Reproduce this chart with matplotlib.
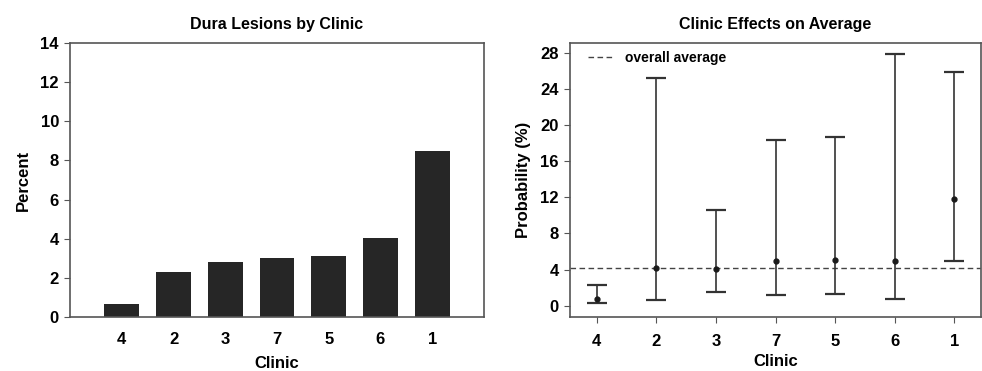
import matplotlib
matplotlib.use("Agg")
import matplotlib.pyplot as plt
from matplotlib import font_manager

names = {f.name for f in font_manager.fontManager.ttflist}
fam = ["Liberation Sans", "DejaVu Sans"]
fam = [f for f in fam if f in names] + ["DejaVu Sans"]
plt.rcParams['font.family'] = fam
plt.rcParams['font.weight'] = 'bold'

clinics = ["4", "2", "3", "7", "5", "6", "1"]
percent = [0.65, 2.3, 2.83, 3.0, 3.13, 4.02, 8.5]

prob_est = [0.74, 4.16, 4.1, 4.97, 5.08, 4.9, 11.8]
prob_low = [0.3, 0.59, 1.47, 1.18, 1.33, 0.74, 4.97]
prob_high = [2.29, 25.2, 10.6, 18.34, 18.7, 27.9, 25.9]
overall_avg = 4.13

left_ticks = [0, 2, 4, 6, 8, 10, 12, 14]
right_ticks = [0, 4, 8, 12, 16, 20, 24, 28]

W, H = 982, 371
fig = plt.figure(figsize=(W / 100, H / 100), dpi=100)
ax1 = fig.add_axes([70 / W, 1 - 317 / H, (484 - 70) / W, (317 - 43) / H])
ax2 = fig.add_axes([570 / W, 1 - 317 / H, (981 - 570) / W, (317 - 43) / H])

edge = "#555555"
x = list(range(1, len(clinics) + 1))

ax1.bar(x, percent, width=0.67, color="#262626", zorder=2)
ax1.set_xlim(0, 8)
ax1.set_ylim(0, 14)
ax1.set_yticks(left_ticks)
ax1.set_xticks(x)
ax1.set_xticklabels(clinics)
ax1.tick_params(axis='x', length=0, pad=11, labelsize=12)
ax1.tick_params(axis='y', length=4, color=edge, labelsize=12, pad=4)
ax1.set_title("Dura Lesions by Clinic", fontsize=11.5, fontweight='bold', pad=10)
ax1.set_xlabel("Clinic", fontsize=12, fontweight='bold', labelpad=6)
ax1.set_ylabel("Percent", fontsize=12, fontweight='bold', labelpad=7)

lower = [e - l for e, l in zip(prob_est, prob_low)]
upper = [h - e for e, h in zip(prob_est, prob_high)]
ax2.errorbar(x, prob_est, yerr=[lower, upper], fmt='o', color="#1a1a1a",
             ecolor="#333333", elinewidth=1.2, capsize=7, capthick=1.6,
             markersize=3.5, zorder=3)
ax2.axhline(overall_avg, color="#444444", linestyle=(0, (4, 2.5)), linewidth=1.0,
            label="overall average", zorder=2)
ax2.set_xlim(0.55, 7.45)
ax2.set_ylim(-1.25, 29.1)
ax2.set_yticks(right_ticks)
ax2.set_xticks(x)
ax2.set_xticklabels(clinics)
ax2.tick_params(axis='x', length=4, color=edge, labelsize=12, pad=8)
ax2.tick_params(axis='y', length=4, color=edge, labelsize=12, pad=4)
ax2.set_title("Clinic Effects on Average", fontsize=11.5, fontweight='bold', pad=10)
ax2.set_xlabel("Clinic", fontsize=12, fontweight='bold', labelpad=4)
ax2.set_ylabel("Probability (%)", fontsize=12, fontweight='bold', labelpad=7)
leg = ax2.legend(loc='upper left', frameon=False, fontsize=10, handlelength=1.9,
                 handletextpad=0.8, borderaxespad=0.15, borderpad=0.4)
leg.set_bbox_to_anchor((0.025, 1.0), transform=ax2.transAxes)

for ax in (ax1, ax2):
    for s in ax.spines.values():
        s.set_color(edge)
        s.set_linewidth(1.2)

fig.savefig("out.png", dpi=100, facecolor="white")
